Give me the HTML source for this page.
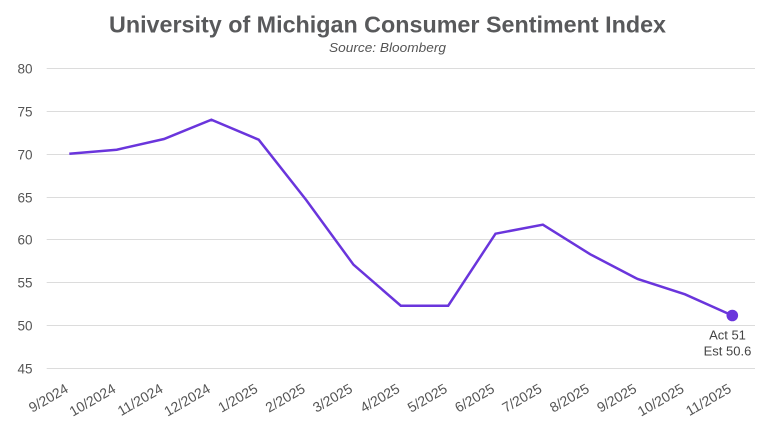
<!DOCTYPE html>
<html><head><meta charset="utf-8"><style>
html,body{margin:0;padding:0;background:#fff;}
svg{display:block;}
</style></head><body>
<svg width="773" height="428" viewBox="0 0 773 428" xmlns="http://www.w3.org/2000/svg">
<rect width="773" height="428" fill="#fff"/>
<text x="387.5" y="32.5" text-anchor="middle" font-family="Liberation Sans, sans-serif" font-weight="bold" font-size="23" fill="#58595b" textLength="557" lengthAdjust="spacingAndGlyphs">University of Michigan Consumer Sentiment Index</text>
<text x="387.5" y="52" text-anchor="middle" font-family="Liberation Sans, sans-serif" font-style="italic" font-size="12.5" fill="#555" textLength="117" lengthAdjust="spacingAndGlyphs">Source: Bloomberg</text>
<g stroke="#dcdcdc" stroke-width="1">
<line x1="46.7" x2="755" y1="68.5" y2="68.5"/>
<line x1="46.7" x2="755" y1="111.5" y2="111.5"/>
<line x1="46.7" x2="755" y1="154.5" y2="154.5"/>
<line x1="46.7" x2="755" y1="197.5" y2="197.5"/>
<line x1="46.7" x2="755" y1="239.5" y2="239.5"/>
<line x1="46.7" x2="755" y1="282.5" y2="282.5"/>
<line x1="46.7" x2="755" y1="325.5" y2="325.5"/>
<line x1="46.7" x2="755" y1="368.5" y2="368.5"/>
</g>
<g font-family="Liberation Sans, sans-serif" font-size="13.5" fill="#555" text-anchor="end">
<text x="32.5" y="73.5">80</text>
<text x="32.5" y="116.5">75</text>
<text x="32.5" y="159.5">70</text>
<text x="32.5" y="202.5">65</text>
<text x="32.5" y="244.5">60</text>
<text x="32.5" y="287.5">55</text>
<text x="32.5" y="330.5">50</text>
<text x="32.5" y="373.5">45</text>
</g>
<g font-family="Liberation Sans, sans-serif" font-size="14" fill="#555" text-anchor="end">
<text transform="translate(69.3,391.5) rotate(-30)">9/2024</text>
<text transform="translate(116.7,391.5) rotate(-30)">10/2024</text>
<text transform="translate(164,391.5) rotate(-30)">11/2024</text>
<text transform="translate(211.4,391.5) rotate(-30)">12/2024</text>
<text transform="translate(258.7,391.5) rotate(-30)">1/2025</text>
<text transform="translate(306.1,391.5) rotate(-30)">2/2025</text>
<text transform="translate(353.5,391.5) rotate(-30)">3/2025</text>
<text transform="translate(400.8,391.5) rotate(-30)">4/2025</text>
<text transform="translate(448.2,391.5) rotate(-30)">5/2025</text>
<text transform="translate(495.5,391.5) rotate(-30)">6/2025</text>
<text transform="translate(542.9,391.5) rotate(-30)">7/2025</text>
<text transform="translate(590.3,391.5) rotate(-30)">8/2025</text>
<text transform="translate(637.6,391.5) rotate(-30)">9/2025</text>
<text transform="translate(685,391.5) rotate(-30)">10/2025</text>
<text transform="translate(732.3,391.5) rotate(-30)">11/2025</text>
</g>
<polyline fill="none" stroke="#6a35dc" stroke-width="2.5" stroke-linejoin="miter" points="69.3,153.7 116.7,149.7 164,139 211.4,119.7 258.7,139.7 306.1,199.9 353.5,264.7 400.8,305.7 448.2,305.7 495.5,233.7 542.9,224.7 590.3,254.3 637.6,279 685,294.3 732.3,315.5"/>
<circle cx="732.3" cy="315.5" r="5.8" fill="#6a35dc"/>
<g font-family="Liberation Sans, sans-serif" font-size="13" fill="#444" text-anchor="middle">
<text x="727.5" y="339.5">Act 51</text>
<text x="727.5" y="355.5">Est 50.6</text>
</g>
</svg>
</body></html>
